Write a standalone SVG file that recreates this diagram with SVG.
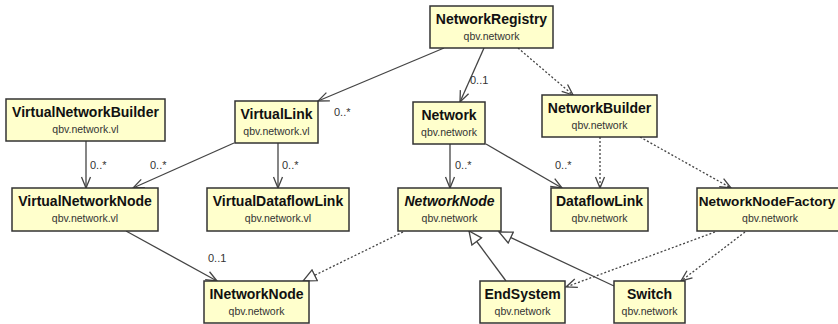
<svg xmlns="http://www.w3.org/2000/svg" width="838" height="324" viewBox="0 0 838 324">
<style>
.box{fill:#ffffcc;stroke:#333;stroke-width:1.5}
.t{font-family:"Liberation Sans",Arial,sans-serif;font-size:14px;font-weight:bold;fill:#111;text-anchor:middle}
.s{font-family:"Liberation Sans",Arial,sans-serif;font-size:10.5px;fill:#333;text-anchor:middle}
.i{font-style:italic}
.ln{fill:none;stroke:#444;stroke-width:1.3}
.d{stroke-dasharray:2,2}
.lb{font-family:"Liberation Sans",Arial,sans-serif;font-size:11px;fill:#333}
</style>
<defs>
<marker id="open" markerUnits="userSpaceOnUse" markerWidth="14" markerHeight="12" refX="12" refY="6" orient="auto">
<path d="M1,1.5 L12,6 L1,10.5" fill="none" stroke="#444" stroke-width="1.3"/>
</marker>
<marker id="tri" markerUnits="userSpaceOnUse" markerWidth="16" markerHeight="14" refX="14" refY="7" orient="auto">
<path d="M1,1 L14,7 L1,13 Z" fill="#fff" stroke="#444" stroke-width="1.3"/>
</marker>
</defs>
<g id="connectors">
<line class="ln" x1="444" y1="48" x2="318" y2="101" marker-end="url(#open)"/>
<line class="ln" x1="484" y1="48" x2="460" y2="102" marker-end="url(#open)"/>
<line class="ln d" x1="518" y1="48" x2="573" y2="95" marker-end="url(#open)"/>
<line class="ln" x1="86" y1="141" x2="86" y2="188" marker-end="url(#open)"/>
<line class="ln" x1="234" y1="143" x2="133" y2="188" marker-end="url(#open)"/>
<line class="ln" x1="278" y1="143" x2="278" y2="188" marker-end="url(#open)"/>
<line class="ln" x1="450" y1="144" x2="450" y2="188" marker-end="url(#open)"/>
<line class="ln" x1="486" y1="144" x2="562" y2="188" marker-end="url(#open)"/>
<line class="ln d" x1="600" y1="137" x2="600" y2="188" marker-end="url(#open)"/>
<line class="ln d" x1="640" y1="137" x2="731" y2="188" marker-end="url(#open)"/>
<line class="ln" x1="126" y1="231" x2="217" y2="281" marker-end="url(#open)"/>
<line class="ln d" x1="403" y1="232" x2="303" y2="281" marker-end="url(#tri)"/>
<line class="ln" x1="506" y1="281" x2="469" y2="231" marker-end="url(#tri)"/>
<line class="ln" x1="614" y1="286" x2="499" y2="232" marker-end="url(#tri)"/>
<line class="ln d" x1="715" y1="232" x2="566" y2="287" marker-end="url(#open)"/>
<line class="ln d" x1="745" y1="232" x2="681" y2="281" marker-end="url(#open)"/>
<text class="lb" x="334" y="116">0..*</text>
<text class="lb" x="470" y="84">0..1</text>
<text class="lb" x="90" y="169">0..*</text>
<text class="lb" x="150" y="169">0..*</text>
<text class="lb" x="282" y="169">0..*</text>
<text class="lb" x="455" y="169">0..*</text>
<text class="lb" x="555" y="169">0..*</text>
<text class="lb" x="208" y="262">0..1</text>
</g>
<g id="NetworkRegistry"><rect class="box" x="430" y="6" width="123" height="42"/><text class="t" x="491.5" y="24">NetworkRegistry</text><text class="s" x="491.5" y="40">qbv.network</text></g>
<g id="VirtualNetworkBuilder"><rect class="box" x="6" y="99" width="159" height="42"/><text class="t" x="85.5" y="117">VirtualNetworkBuilder</text><text class="s" x="85.5" y="133">qbv.network.vl</text></g>
<g id="VirtualLink"><rect class="box" x="235" y="101" width="83" height="42"/><text class="t" x="276.5" y="119">VirtualLink</text><text class="s" x="276.5" y="135">qbv.network.vl</text></g>
<g id="Network"><rect class="box" x="413" y="102" width="72" height="42"/><text class="t" x="449" y="120">Network</text><text class="s" x="449" y="136">qbv.network</text></g>
<g id="NetworkBuilder"><rect class="box" x="542" y="95" width="115" height="42"/><text class="t" x="599.5" y="113">NetworkBuilder</text><text class="s" x="599.5" y="129">qbv.network</text></g>
<g id="VirtualNetworkNode"><rect class="box" x="12" y="188" width="146" height="43"/><text class="t" x="85" y="206">VirtualNetworkNode</text><text class="s" x="85" y="222">qbv.network.vl</text></g>
<g id="VirtualDataflowLink"><rect class="box" x="207" y="188" width="142" height="43"/><text class="t" x="278" y="206">VirtualDataflowLink</text><text class="s" x="278" y="222">qbv.network.vl</text></g>
<g id="NetworkNode"><rect class="box" x="398" y="188" width="103" height="43"/><text class="t i" x="449.5" y="206">NetworkNode</text><text class="s" x="449.5" y="222">qbv.network</text></g>
<g id="DataflowLink"><rect class="box" x="551" y="188" width="97" height="43"/><text class="t" x="599.5" y="206">DataflowLink</text><text class="s" x="599.5" y="222">qbv.network</text></g>
<g id="NetworkNodeFactory"><rect class="box" x="697" y="188" width="146" height="43"/><text class="t" x="767" y="206" style="font-size:13.6px">NetworkNodeFactory</text><text class="s" x="770" y="222">qbv.network</text></g>
<g id="INetworkNode"><rect class="box" x="204" y="281" width="105" height="42"/><text class="t" x="256.5" y="299">INetworkNode</text><text class="s" x="256.5" y="315">qbv.network</text></g>
<g id="EndSystem"><rect class="box" x="480" y="281" width="85" height="42"/><text class="t" x="522.5" y="299">EndSystem</text><text class="s" x="522.5" y="315">qbv.network</text></g>
<g id="Switch"><rect class="box" x="614" y="281" width="71" height="42"/><text class="t" x="649.5" y="299">Switch</text><text class="s" x="649.5" y="315">qbv.network</text></g>
</svg>
